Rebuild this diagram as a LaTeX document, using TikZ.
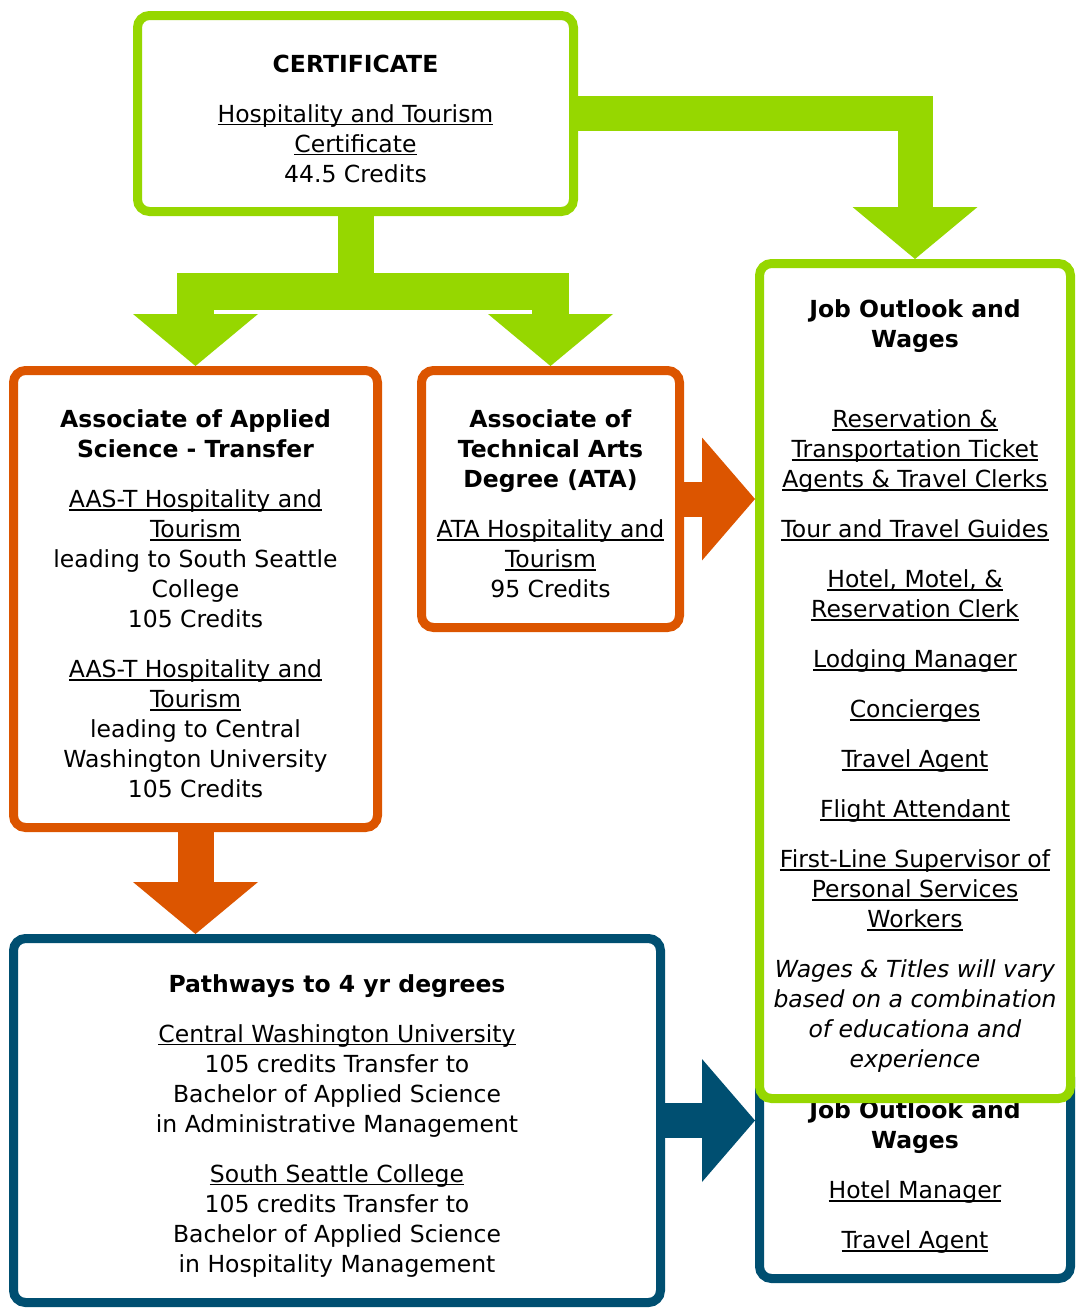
\documentclass[tikz,border=0pt]{standalone}
\usepackage{fontspec}
\setmainfont{DejaVu Sans}
\usetikzlibrary{calc}
\definecolor{grn}{HTML}{96D700}
\definecolor{org}{HTML}{DC5500}
\definecolor{blu}{HTML}{004F71}
\newcommand\ul[1]{\leavevmode\setbox0\hbox{#1}\rlap{\rule[-3pt]{\wd0}{1.5pt}}\box0}
\newcommand\firststrut{\rule{0pt}{28pt}}
\newcommand\headdown[2]{\fill[#1] (#2) -- ++(-62.5,52) -- ++(125,0) -- cycle;}
\newcommand\headright[2]{\fill[#1] (#2) -- ++(-53,61.5) -- ++(0,-123) -- cycle;}

\begin{document}
\begin{tikzpicture}[
    x=1pt, y=1pt,
    box/.style={rounded corners=12pt, line width=9pt, fill=white, align=center,
                inner sep=0pt, font=\fontsize{23.5}{30}\selectfont},
    shaft/.style={line width=36pt, line join=miter}
]
\useasboundingbox (0,0) rectangle (1081,-1309);

% boxes
\node[box, draw=blu, minimum width=311pt, minimum height=213pt] (jobb) at (915,-1172)
    {\firststrut\textbf{Job Outlook and}\\ \textbf{Wages}\\[20pt]
     \ul{Hotel Manager}\\[20pt]
     \ul{Travel Agent}};
\node[box, draw=grn, minimum width=436pt, minimum height=196pt] (cert) at (355.5,-113.5)
    {\firststrut\textbf{CERTIFICATE}\\[20pt]
     \ul{Hospitality and Tourism}\\ \ul{Certificate}\\ 44.5 Credits};
\node[box, draw=org, minimum width=364pt, minimum height=457pt] (aas) at (195.5,-599)
    {\firststrut\textbf{Associate of Applied}\\ \textbf{Science - Transfer}\\[20pt]
     \ul{AAS-T Hospitality and}\\ \ul{Tourism}\\ leading to South Seattle\\ College\\ 105 Credits\\[20pt]
     \ul{AAS-T Hospitality and}\\ \ul{Tourism}\\ leading to Central\\ Washington University\\ 105 Credits};
\node[box, draw=org, minimum width=258pt, minimum height=257pt] (ata) at (550.5,-499)
    {\firststrut\textbf{Associate of}\\ \textbf{Technical Arts}\\ \textbf{Degree (ATA)}\\[20pt]
     \ul{ATA Hospitality and}\\ \ul{Tourism}\\ 95 Credits};
\node[box, draw=grn, minimum width=311pt, minimum height=835pt] (job) at (915,-681)
    {\firststrut\textbf{Job Outlook and}\\ \textbf{Wages}\\[50pt]
     \ul{Reservation \&}\\ \ul{Transportation Ticket}\\ \ul{Agents \& Travel Clerks}\\[20pt]
     \ul{Tour and Travel Guides}\\[20pt]
     \ul{Hotel, Motel, \&}\\ \ul{Reservation Clerk}\\[20pt]
     \ul{Lodging Manager}\\[20pt]
     \ul{Concierges}\\[20pt]
     \ul{Travel Agent}\\[20pt]
     \ul{Flight Attendant}\\[20pt]
     \ul{First-Line Supervisor of}\\ \ul{Personal Services}\\ \ul{Workers}\\[20pt]
     \textit{Wages \& Titles will vary}\\ \textit{based on a combination}\\
     \textit{of educationa and}\\ \textit{experience}};
\node[box, draw=blu, minimum width=647pt, minimum height=364pt] (pw) at (337,-1120.5)
    {\firststrut\textbf{Pathways to 4 yr degrees}\\[20pt]
     \ul{Central Washington University}\\ 105 credits Transfer to\\
     Bachelor of Applied Science\\ in Administrative Management\\[20pt]
     \ul{South Seattle College}\\ 105 credits Transfer to\\
     Bachelor of Applied Science\\ in Hospitality Management};

% green arrows out of the certificate
\coordinate (split) at ($(cert.south)+(0,-75)$);
\draw[shaft, grn] (cert.south) -- (split);
\draw[shaft, grn, line width=37pt] ($(aas.north)+(0,52)$) |- (split) -| ($(ata.north)+(0,52)$);
\headdown{grn}{aas.north}
\headdown{grn}{ata.north}
\draw[shaft, grn, line width=35pt] (cert.east) -| ($(job.north)+(0,52)$);
\headdown{grn}{job.north}

% orange arrows
\draw[shaft, org, line width=35pt] (ata.east) -- ($(job.west |- ata.east)+(-53,0)$);
\headright{org}{job.west |- ata.east}
\draw[shaft, org] (aas.south) -- ($(aas.south |- pw.north)+(0,52)$);
\headdown{org}{aas.south |- pw.north}

% blue arrow
\draw[shaft, blu, line width=35pt] (pw.east) -- ($(jobb.west |- pw.east)+(-53,0)$);
\headright{blu}{jobb.west |- pw.east}
\end{tikzpicture}
\end{document}
